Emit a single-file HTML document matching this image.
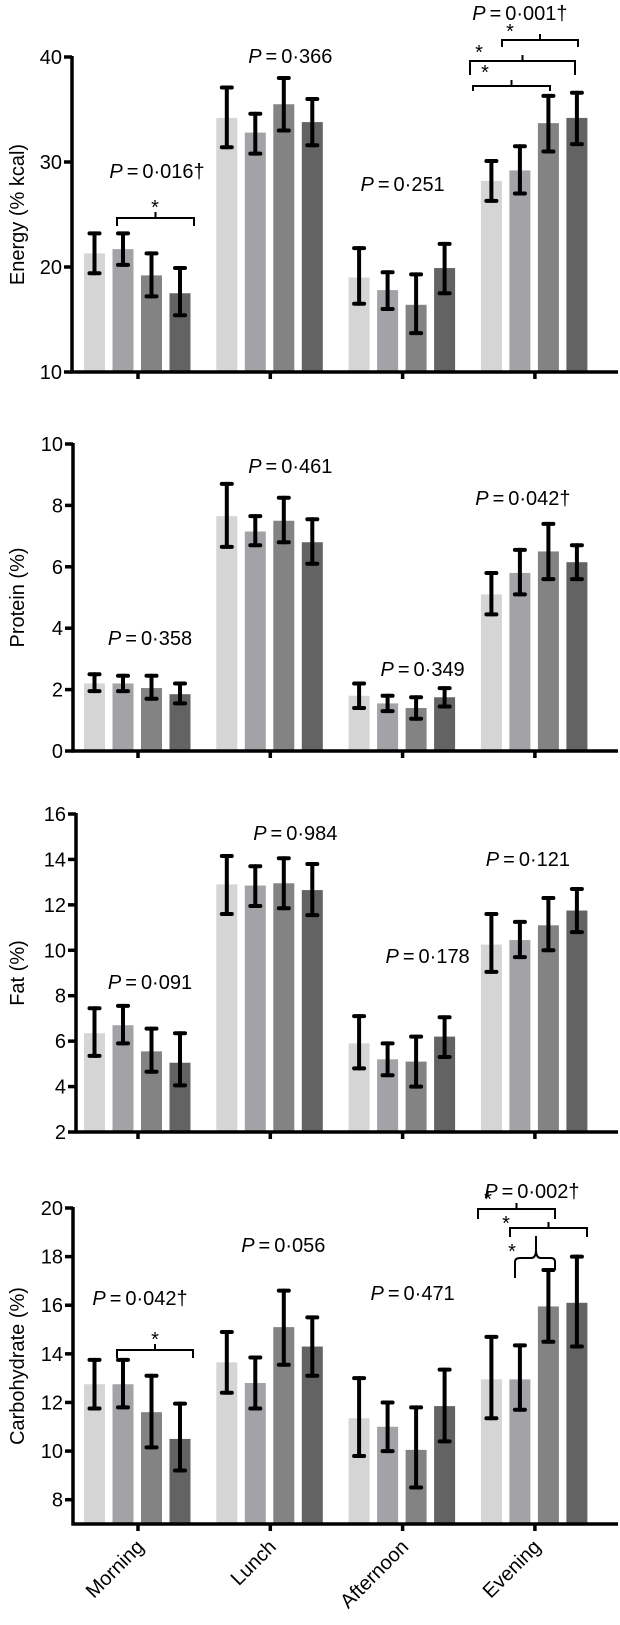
<!DOCTYPE html>
<html><head><meta charset="utf-8"><style>
body{margin:0;background:#fff}
svg text{font-family:"Liberation Sans",Arial,sans-serif;fill:#000}
</style></head><body>
<svg id="chart" width="620" height="1620" viewBox="0 0 620 1620" xmlns="http://www.w3.org/2000/svg"></svg>
<script>
const categories = ["Morning","Lunch","Afternoon","Evening"];
const energyMean = [[21.3,21.7,19.2,17.5],[34.2,32.8,35.5,33.8],[19.0,17.8,16.4,19.9],[28.2,29.2,33.7,34.2]];
const energyHi = [[23.2,23.2,21.3,19.9],[37.1,34.6,38.0,36.0],[21.8,19.5,19.3,22.2],[30.1,31.5,36.3,36.6]];
const energyLo = [[19.4,20.2,17.2,15.4],[31.4,30.8,33.0,31.6],[16.5,16.0,13.7,17.5],[26.3,27.0,31.0,31.7]];
const proteinMean = [[2.2,2.2,2.05,1.85],[7.65,7.15,7.5,6.8],[1.8,1.55,1.4,1.75],[5.1,5.8,6.5,6.15]];
const proteinHi = [[2.5,2.45,2.45,2.2],[8.7,7.65,8.25,7.55],[2.2,1.8,1.75,2.05],[5.8,6.55,7.4,6.7]];
const proteinLo = [[1.95,1.95,1.7,1.55],[6.65,6.7,6.8,6.1],[1.4,1.3,1.05,1.45],[4.45,5.1,5.6,5.6]];
const fatMean = [[6.35,6.7,5.55,5.05],[12.9,12.85,12.95,12.65],[5.9,5.2,5.1,6.2],[10.25,10.45,11.1,11.75]];
const fatHi = [[7.45,7.55,6.55,6.35],[14.15,13.7,14.05,13.8],[7.1,5.9,6.2,7.05],[11.6,11.25,12.3,12.7]];
const fatLo = [[5.35,5.9,4.65,4.05],[11.6,11.95,11.85,11.55],[4.8,4.5,4.0,5.3],[9.05,9.7,10.0,10.8]];
const carbMean = [[12.75,12.75,11.6,10.5],[13.65,12.8,15.1,14.3],[11.35,11.0,10.05,11.85],[12.95,12.95,15.95,16.1]];
const carbHi = [[13.75,13.75,13.1,11.95],[14.9,13.85,16.6,15.5],[13.0,12.0,11.8,13.35],[14.7,14.35,17.45,18.0]];
const carbLo = [[11.75,11.8,10.15,9.2],[12.4,11.75,13.55,13.1],[9.8,10.0,8.5,10.4],[11.35,11.7,14.5,14.3]];
const energyTicks = [10,20,30,40];
const proteinTicks = [0,2,4,6,8,10];
const fatTicks = [2,4,6,8,10,12,14,16];
const carbTicks = [8,10,12,14,16,18,20];
const energyP = ["0·016†","0·366","0·251","0·001†"];
const proteinP = ["0·358","0·461","0·349","0·042†"];
const fatP = ["0·091","0·984","0·178","0·121"];
const carbP = ["0·042†","0·056","0·471","0·002†"];
const colors = ["#d5d5d5","#a3a3a7","#838383","#636363"];

const svg = document.getElementById('chart');
const NS = "http://www.w3.org/2000/svg";
function mk(tag, attrs, parent){const e=document.createElementNS(NS,tag);for(const k in attrs)e.setAttribute(k,attrs[k]);(parent||svg).appendChild(e);return e;}
const xCenter = i => 138 + i*132.3;
const FS = 20;

function panel(cfg){
  const g = mk('g',{});
  
  
  const y = v => cfg.yBot - (v - cfg.min) * (cfg.yBot - cfg.yTop) / (cfg.max - cfg.min);
  cfg.mean.forEach((grp,i)=>{
    grp.forEach((v,k)=>{
      const bx = xCenter(i) - 54 + k*28.5;
      const r = mk('rect',{x:bx,y:y(v),width:21,height:cfg.yBot-y(v),fill:colors[k]},g);
      
      
      const cx = bx+10.5;
      const eb = mk('g',{stroke:'#000','stroke-width':4,'stroke-linecap':'round'},g);
      
      
      mk('line',{x1:cx,x2:cx,y1:y(cfg.hi[i][k]),y2:y(cfg.lo[i][k])},eb);
      mk('line',{x1:cx-5,x2:cx+5,y1:y(cfg.hi[i][k]),y2:y(cfg.hi[i][k])},eb);
      mk('line',{x1:cx-5,x2:cx+5,y1:y(cfg.lo[i][k]),y2:y(cfg.lo[i][k])},eb);
    });
    const t = mk('text',{x:xCenter(i)+cfg.pdx[i],y:cfg.py[i],'font-size':FS,'text-anchor':'middle'},g);
    
    
    t.innerHTML = '<tspan font-style="italic">P</tspan>\u2009=\u2009' + cfg.p[i];
  });
  const ax = mk('g',{stroke:'#000','stroke-width':3.5,fill:'none'},g);
  
  
  mk('line',{x1:cfg.ax,x2:cfg.ax,y1:cfg.yTop-1,y2:cfg.yBot+1.5},ax);
  mk('line',{x1:cfg.ax-1.5,x2:618,y1:cfg.yBot,y2:cfg.yBot},ax);
  cfg.ticks.forEach(v=>{
    mk('line',{x1:cfg.ax-8,x2:cfg.ax,y1:y(v),y2:y(v)},ax);
    const t = mk('text',{x:cfg.ax-10,y:y(v)+7,'font-size':FS,'text-anchor':'end'},g);
    
    
    t.textContent = v;
  });
  categories.forEach((c,i)=>{ mk('line',{x1:xCenter(i),x2:xCenter(i),y1:cfg.yBot,y2:cfg.yBot+7},ax); });
  const yt = mk('text',{x:0,y:0,'font-size':FS,'text-anchor':'middle',transform:'translate(24,'+((cfg.yTop+cfg.yBot)/2)+') rotate(-90)'},g);
  
  
  yt.textContent = cfg.title;
  return g;
}
panel({name:'energy',mean:energyMean,hi:energyHi,lo:energyLo,ticks:energyTicks,p:energyP,min:10,max:40,yTop:57,yBot:372,ax:72,title:'Energy (% kcal)',py:[178,63,191,20],pdx:[19,20,0,-15]});
panel({name:'protein',mean:proteinMean,hi:proteinHi,lo:proteinLo,ticks:proteinTicks,p:proteinP,min:0,max:10,yTop:444,yBot:751,ax:73,title:'Protein (%)',py:[645,473,676,505],pdx:[12,20,20,-12]});
panel({name:'fat',mean:fatMean,hi:fatHi,lo:fatLo,ticks:fatTicks,p:fatP,min:2,max:16,yTop:814,yBot:1132,ax:76,title:'Fat (%)',py:[989,840,963,866],pdx:[12,25,25,-7]});
panel({name:'carbohydrate',mean:carbMean,hi:carbHi,lo:carbLo,ticks:carbTicks,p:carbP,min:7,max:20,yTop:1208,yBot:1524,ax:73,title:'Carbohydrate (%)',py:[1305,1252,1300,1198],pdx:[2,13,10,-3]});

const br = mk('g',{stroke:'#000','stroke-width':2,fill:'none'});


function bracket(x1,x2,yy,drop,name){
  const p = mk('path',{d:`M${x1},${yy+drop} L${x1},${yy} L${x2},${yy} L${x2},${yy+drop} M${(x1+x2)/2},${yy} L${(x1+x2)/2},${yy-6}`},br);
  
  
}
function star(x,yy,name){
  const t = mk('text',{x:x,y:yy,'font-size':FS,'text-anchor':'middle'});
  
  
  t.textContent='*';
}
bracket(117,194,218,8,'energy-morning-bracket'); star(155,214,'energy-morning-star');
bracket(502,578,40,7,'energy-evening-bracket-1'); star(510,38,'energy-evening-star-1');
bracket(470,575,61,14,'energy-evening-bracket-2'); star(479,59,'energy-evening-star-2');
bracket(473,550,86,5,'energy-evening-bracket-3'); star(485,79,'energy-evening-star-3');
bracket(117,193,1350,8,'carb-morning-bracket'); star(155,1346,'carb-morning-star');
bracket(478,555,1209,10,'carb-evening-bracket-1'); star(488,1206,'carb-evening-star-1');
bracket(510,587,1228,9,'carb-evening-bracket-2'); star(506,1230,'carb-evening-star-2');
const cb = mk('path',{d:'M515,1278 L515,1262 Q515,1258 520,1258 L531,1258 Q536,1258 536,1250 L536,1236 M536,1250 Q536,1258 541,1258 L551,1258 Q555,1258 555,1262 L555,1270'},br);


star(512,1258,'carb-evening-star-3');

categories.forEach((c,i)=>{
  const t = mk('text',{x:0,y:0,'font-size':FS,'text-anchor':'end',transform:`translate(${xCenter(i)+7},${1548}) rotate(-45)`});
  
  
  t.textContent=c;
});
</script>
</body></html>
